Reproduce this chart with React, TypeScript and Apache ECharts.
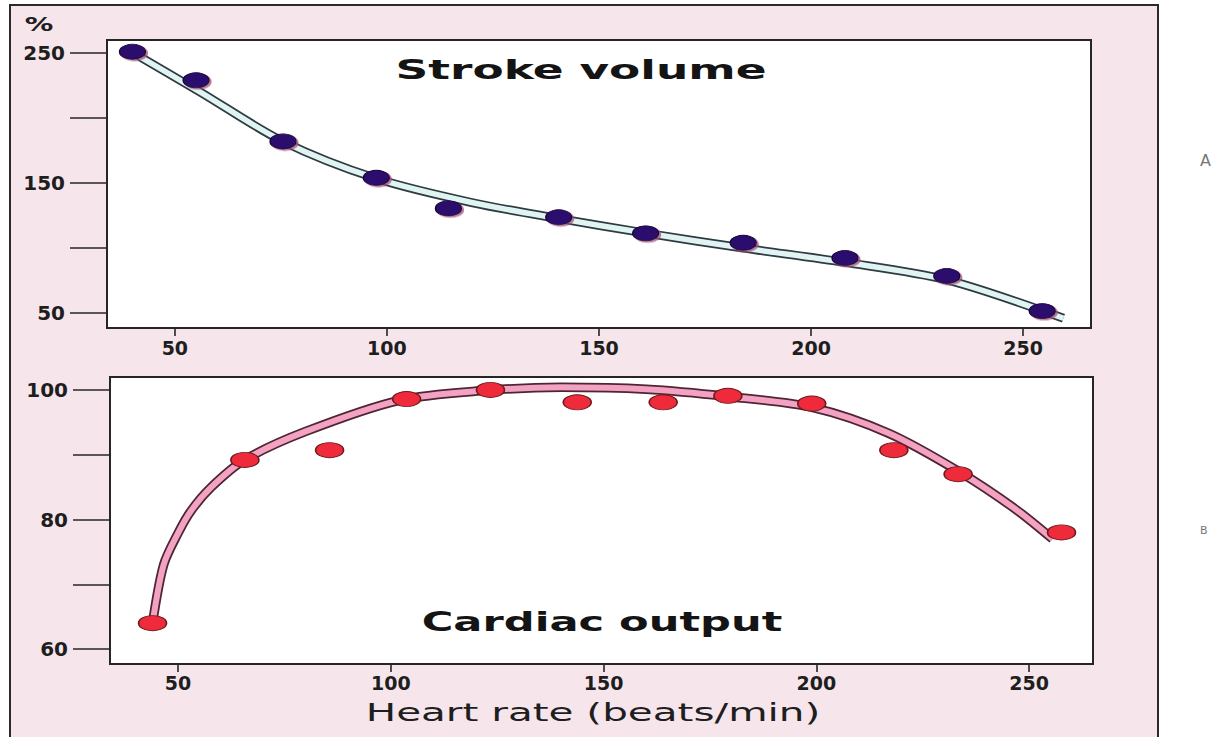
import React, { useEffect, useRef } from "react";
import * as echarts from "echarts";

// ---- Data ----
const xTicks = [50, 100, 150, 200, 250];

// Stroke volume (top panel)
const svDotsX = [40, 55, 75.5, 97.5, 114.5, 140.5, 161, 184, 208, 232, 254.5];
const svDotsY = [251, 229, 182, 154, 130.5, 123.7, 111.3, 104, 92.3, 78.5, 51.5];
const svCurveX = [40, 56, 75.5, 97.5, 120, 140, 161, 184, 208, 232, 259.5];
const svCurveY = [250.5, 220, 182, 153.5, 135, 123, 111.5, 100, 89, 75.5, 46];
const svYTicks = [50, 100, 150, 200, 250];
const svYLabels = [50, 150, 250];

// Cardiac output (bottom panel)
const coDotsX = [44, 65.7, 85.6, 103.7, 123.4, 143.8, 164, 179.2, 198.9, 218.2, 233.3, 257.6];
const coDotsY = [64, 89.2, 90.7, 98.6, 100, 98.1, 98.1, 99.1, 97.9, 90.7, 87, 78];
const coCurveX = [44, 46.6, 50, 53.1, 57.8, 65.6, 80, 102, 122, 140, 160, 179, 199, 217, 234, 247, 255.5];
const coCurveY = [64, 73, 77.9, 81.4, 85, 89.2, 93.6, 98.4, 99.9, 100.4, 100.1, 99, 97.3, 93.3, 87.2, 81.5, 77];
const coYTicks = [60, 70, 80, 90, 100];
const coYLabels = [60, 80, 100];

const zip = (xs: number[], ys: number[]) => xs.map((x, i) => [x, ys[i]]);

const FONT = "DejaVu Sans";
const INK = "#262626";

export default function App() {
  const ref = useRef<HTMLDivElement>(null);

  useEffect(() => {
    if (!ref.current) return;
    const chart = echarts.init(ref.current, undefined, { renderer: "svg" });

    const yAxisBase = (min: number, max: number, ticks: number[], labels: number[], gi: number) => ({
      type: "value",
      gridIndex: gi,
      min,
      max,
      axisLine: { show: true, lineStyle: { color: INK, width: 2 } },
      axisTick: { show: true, length: 37, customValues: ticks, lineStyle: { color: INK, width: 1.6 } },
      axisLabel: {
        customValues: labels,
        margin: 42,
        fontSize: 20,
        fontWeight: "bold",
        fontFamily: FONT,
        color: "#1e1e1e",
      },
      splitLine: { show: false },
    });

    const xAxisBase = (min: number, max: number, gi: number, margin: number) => ({
      type: "value",
      gridIndex: gi,
      min,
      max,
      axisLine: { show: true, lineStyle: { color: INK, width: 2 } },
      axisTick: { show: true, length: 8, customValues: xTicks, lineStyle: { color: INK, width: 1.6 } },
      axisLabel: {
        customValues: xTicks,
        margin,
        fontSize: 19,
        fontWeight: "bold",
        fontFamily: FONT,
        color: "#1e1e1e",
      },
      splitLine: { show: false },
    });

    const tube = (
      data: number[][],
      xi: number,
      outer: string,
      inner: string,
      wOuter: number,
      wInner: number
    ) => [
      {
        type: "line",
        xAxisIndex: xi,
        yAxisIndex: xi,
        data,
        smooth: 0.3,
        symbol: "none",
        showSymbol: false,
        silent: true,
        z: 2,
        lineStyle: { width: wOuter, color: outer, cap: "butt" },
      },
      {
        type: "line",
        xAxisIndex: xi,
        yAxisIndex: xi,
        data,
        smooth: 0.3,
        symbol: "none",
        showSymbol: false,
        silent: true,
        z: 3,
        lineStyle: { width: wInner, color: inner, cap: "butt" },
      },
    ];

    chart.setOption({
      animation: false,
      backgroundColor: "#ffffff",
      graphic: [
        {
          type: "rect",
          z: -100,
          shape: { x: 10, y: 5, width: 1148, height: 800 },
          style: { fill: "#f6e6ec", stroke: "#2a2a2a", lineWidth: 2 },
        },
        {
          type: "text",
          x: 39,
          y: 25,
          scaleX: 1.5,
          style: {
            text: "%",
            fontSize: 19,
            fontWeight: "bold",
            fontFamily: FONT,
            fill: "#1e1e1e",
            textAlign: "center",
            textVerticalAlign: "middle",
          },
        },
        {
          type: "text",
          x: 581,
          y: 70,
          scaleX: 1.75,
          z: 10,
          style: {
            text: "Stroke volume",
            fontSize: 26,
            fontWeight: "bold",
            fontFamily: FONT,
            fill: "#141414",
            textAlign: "center",
            textVerticalAlign: "middle",
          },
        },
        {
          type: "text",
          x: 602,
          y: 622,
          scaleX: 1.66,
          z: 10,
          style: {
            text: "Cardiac output",
            fontSize: 26,
            fontWeight: "bold",
            fontFamily: FONT,
            fill: "#141414",
            textAlign: "center",
            textVerticalAlign: "middle",
          },
        },
        {
          type: "text",
          x: 593,
          y: 712,
          scaleX: 1.62,
          style: {
            text: "Heart rate (beats/min)",
            fontSize: 25,
            fontFamily: FONT,
            fill: "#1e1e1e",
            textAlign: "center",
            textVerticalAlign: "middle",
          },
        },
        {
          type: "text",
          x: 1200,
          y: 160,
          style: { text: "A", fontSize: 16, fontFamily: FONT, fill: "#777", textVerticalAlign: "middle" },
        },
        {
          type: "text",
          x: 1200,
          y: 530,
          style: { text: "B", fontSize: 11, fontFamily: FONT, fill: "#777", textVerticalAlign: "middle" },
        },
      ],
      grid: [
        {
          left: 107,
          top: 40,
          width: 984,
          height: 288,
          show: true,
          backgroundColor: "#ffffff",
          borderColor: INK,
          borderWidth: 2,
        },
        {
          left: 110,
          top: 377,
          width: 983,
          height: 287,
          show: true,
          backgroundColor: "#ffffff",
          borderColor: INK,
          borderWidth: 2,
        },
      ],
      xAxis: [xAxisBase(34, 266, 0, 10), xAxisBase(34, 265, 1, 9)],
      yAxis: [
        yAxisBase(38.5, 260, svYTicks, svYLabels, 0),
        yAxisBase(57.7, 102, coYTicks, coYLabels, 1),
      ],
      series: [
        ...tube(zip(svCurveX, svCurveY), 0, "#2e3b40", "#e1f4f4", 9, 5.5),
        {
          type: "scatter",
          xAxisIndex: 0,
          yAxisIndex: 0,
          data: zip(svDotsX, svDotsY),
          symbol: "circle",
          symbolSize: [26, 15],
          z: 5,
          itemStyle: {
            color: "#2a0c6c",
            borderColor: "#180538",
            borderWidth: 1,
            shadowColor: "rgba(160,80,120,0.75)",
            shadowOffsetX: 2,
            shadowOffsetY: 1.5,
            shadowBlur: 0,
            opacity: 1,
          },
        },
        ...tube(zip(coCurveX, coCurveY), 1, "#4e2530", "#f3a2c3", 9.5, 6),
        {
          type: "scatter",
          xAxisIndex: 1,
          yAxisIndex: 1,
          data: zip(coDotsX, coDotsY),
          symbol: "circle",
          symbolSize: [28, 15],
          z: 5,
          itemStyle: {
            color: "#ef2b3b",
            borderColor: "#6e1a1f",
            borderWidth: 1.2,
            opacity: 1,
          },
        },
      ],
    });

    return () => chart.dispose();
  }, []);

  return (
    <>
      <style>{`html,body{margin:0;padding:0;background:#fff;}`}</style>
      <div ref={ref} style={{ width: 1211, height: 737 }} />
    </>
  );
}
